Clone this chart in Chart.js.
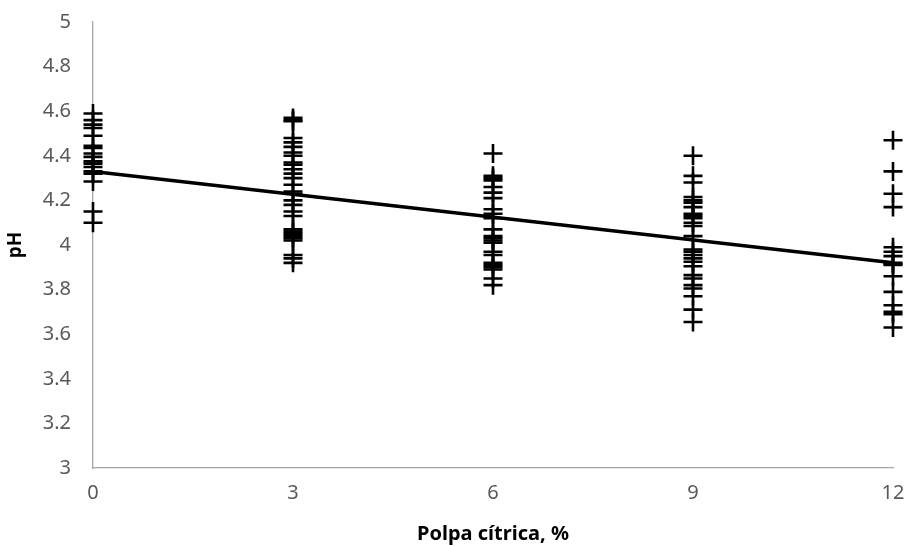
<!DOCTYPE html>
<html>
<head>
<meta charset="utf-8">
<script src="https://cdn.jsdelivr.net/npm/chart.js@4.4.0/dist/chart.umd.min.js"></script>
<style>
  html, body { margin: 0; padding: 0; background: #fff; }
  #wrap { width: 911px; height: 546px; }
</style>
</head>
<body>
<div id="wrap"><canvas id="myChart" width="911" height="546"></canvas></div>
<script>
// citrus pulp level (%) and the pH readings at each level
const levels = [0, 3, 6, 9, 12];
const ph0 = [4.59, 4.56, 4.54, 4.525, 4.49, 4.445, 4.435, 4.41, 4.395, 4.375, 4.365, 4.35, 4.33, 4.32, 4.285, 4.15, 4.10];
const ph3 = [4.57, 4.56, 4.555, 4.48, 4.46, 4.44, 4.415, 4.40, 4.37, 4.36, 4.34, 4.32, 4.30, 4.27, 4.24, 4.23, 4.20, 4.18, 4.15, 4.13, 4.07, 4.06, 4.05, 4.04, 4.03, 4.02, 3.955, 3.94, 3.92];
const ph6 = [4.41, 4.31, 4.30, 4.29, 4.26, 4.235, 4.21, 4.16, 4.14, 4.12, 4.07, 4.04, 4.03, 4.02, 4.01, 3.97, 3.955, 3.92, 3.91, 3.90, 3.89, 3.85, 3.82];
const ph9 = [4.40, 4.31, 4.28, 4.215, 4.20, 4.19, 4.17, 4.14, 4.13, 4.12, 4.10, 4.085, 4.04, 3.98, 3.97, 3.955, 3.94, 3.925, 3.905, 3.865, 3.85, 3.82, 3.805, 3.77, 3.71, 3.655];
const ph12 = [4.47, 4.33, 4.23, 4.17, 3.99, 3.97, 3.95, 3.92, 3.915, 3.91, 3.86, 3.79, 3.73, 3.70, 3.69, 3.63];

// linear trend line end points
const trendX = [0, 12];
const trendY = [4.33, 3.92];

const xTicks = [0, 3, 6, 9, 12];

const groups = [ph0, ph3, ph6, ph9, ph12];
const points = [];
groups.forEach((vals, i) => {
  vals.forEach(v => points.push({ x: levels[i], y: v }));
});

const trend = trendX.map((x, i) => ({ x: x, y: trendY[i] }));

const tickColor = '#595959';
const axisColor = '#a6a6a6';
const fontFamily = "'Noto Sans', 'Open Sans', sans-serif";

const config = {
  type: 'scatter',
  data: {
    datasets: [{
      label: 'pH',
      data: points,
      pointStyle: 'cross',
      pointRadius: 9.5,
      pointBorderWidth: 2.6,
      borderColor: '#000',
      backgroundColor: '#000',
      clip: false,
      order: 2
    }, {
      type: 'line',
      label: 'trend',
      data: trend,
      borderColor: '#000',
      borderWidth: 3.5,
      pointRadius: 0,
      fill: false,
      clip: false,
      order: 1
    }]
  },
  options: {
    responsive: false,
    animation: false,
    layout: { padding: { top: 22, right: 18, left: 0, bottom: 0 } },
    plugins: {
      legend: { display: false },
      tooltip: { enabled: false }
    },
    scales: {
      x: {
        type: 'linear',
        min: 0,
        max: 12,
        afterBuildTicks: scale => { scale.ticks = xTicks.map(v => ({ value: v })); },
        grid: { display: false, drawTicks: false },
        border: { color: axisColor, width: 1.3 },
        ticks: { color: tickColor, font: { family: fontFamily, size: 20 }, padding: 13 },
        title: {
          display: true,
          text: 'Polpa cítrica, %',
          color: '#000',
          font: { family: fontFamily, size: 20, weight: 'bold' },
          padding: { top: 11, bottom: 0 }
        },
        afterFit: scale => {
          scale.height = 78;
          scale.paddingLeft = 0;
          scale.paddingRight = 0;
        }
      },
      y: {
        min: 3,
        max: 5,
        grid: { display: false, drawTicks: false },
        border: { color: axisColor, width: 1.3 },
        ticks: {
          stepSize: 0.2,
          color: tickColor,
          font: { family: fontFamily, size: 20 },
          padding: 22,
          callback: v => String(Number(v.toFixed(1)))
        },
        title: {
          display: true,
          text: 'pH',
          color: '#000',
          font: { family: fontFamily, size: 19, weight: 'bold' },
          padding: { top: 4, bottom: 0 }
        },
        afterFit: scale => {
          scale.width = 93;
          scale.paddingTop = 0;
          scale.paddingBottom = 0;
        }
      }
    }
  }
};

const myChart = new Chart(document.getElementById('myChart'), config);
</script>
</body>
</html>
